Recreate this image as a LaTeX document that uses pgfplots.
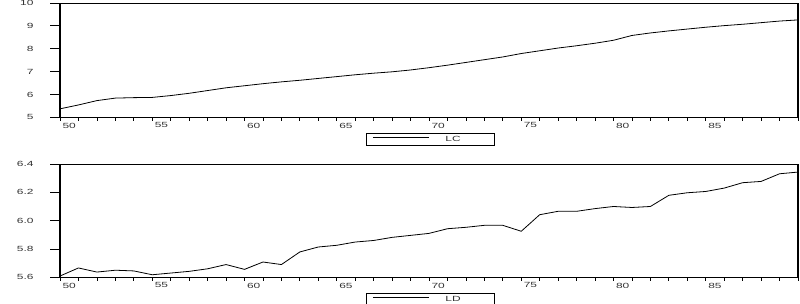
\documentclass[border=0pt]{standalone}
\usepackage{fontspec}
\setmainfont{Liberation Sans}
\usepackage{graphicx}
\usepackage{pgfplots}
\pgfplotsset{compat=1.18}
\newcommand\wtxt[1]{\scalebox{1.6}[1]{#1}}

\pgfplotstableread{
x y
1950 5.37
1951 5.54
1952 5.73
1953 5.84
1954 5.86
1955 5.87
1956 5.95
1957 6.05
1958 6.17
1959 6.29
1960 6.38
1961 6.47
1962 6.55
1963 6.62
1964 6.70
1965 6.78
1966 6.86
1967 6.93
1968 6.99
1969 7.07
1970 7.17
1971 7.28
1972 7.40
1973 7.52
1974 7.64
1975 7.79
1976 7.91
1977 8.03
1978 8.13
1979 8.24
1980 8.37
1981 8.58
1982 8.69
1983 8.78
1984 8.86
1985 8.94
1986 9.01
1987 9.07
1988 9.14
1989 9.21
1990 9.26
}\lcdata

\pgfplotstableread{
x y
1950 5.609
1951 5.666
1952 5.637
1953 5.650
1954 5.645
1955 5.618
1956 5.630
1957 5.642
1958 5.660
1959 5.690
1960 5.656
1961 5.708
1962 5.690
1963 5.779
1964 5.814
1965 5.826
1966 5.849
1967 5.860
1968 5.882
1969 5.896
1970 5.910
1971 5.943
1972 5.953
1973 5.967
1974 5.967
1975 5.925
1976 6.042
1977 6.066
1978 6.066
1979 6.085
1980 6.100
1981 6.093
1982 6.100
1983 6.179
1984 6.197
1985 6.206
1986 6.230
1987 6.268
1988 6.277
1989 6.331
1990 6.343
}\lddata

\pgfplotsset{
  evstyle/.style={
    scale only axis,
    width=738bp,
    xmin=1950, xmax=1990,
    xtick={1950.5,1955.5,1960.5,1965.5,1970.5,1975.5,1980.5,1985.5},
    xticklabels={\wtxt{50},\wtxt{55},\wtxt{60},\wtxt{65},\wtxt{70},\wtxt{75},\wtxt{80},\wtxt{85}},
    minor xtick={1950,1951,...,1990},
    separate axis lines,
    y axis line style={line width=1.8bp},
    x axis line style={line width=0.8bp},
    tick align=outside,
    tick pos=left,
    major tick length=10bp,
    minor tick length=3.5bp,
    major x tick style={draw=none},
    tick style={black, line width=0.8bp},
    ticklabel style={font=\fontsize{7.5}{8}\selectfont, text=black!80},
    xticklabel style={yshift=8bp},
    yticklabel style={xshift=-13bp},
    legend cell align=left,
    legend image code/.code={\draw[black, line width=0.8bp] (0bp,2.6bp) -- (56bp,2.6bp);},
    legend style={at={(0.502,0)}, anchor=north, yshift=-16bp, draw=black, line width=0.8bp,
      font=\fontsize{7.5}{8}\selectfont, text=black!80, inner xsep=6bp, inner ysep=0.5bp},
  }
}

\begin{document}
\begin{tikzpicture}
\useasboundingbox (0bp,0bp) rectangle (800bp,304bp);
\begin{axis}[evstyle,
  at={(60bp,186.7bp)}, anchor=south west,
  height=114.3bp,
  ymin=5, ymax=10,
  ytick={5,6,7,8,9,10},
  yticklabels={\wtxt{5},\wtxt{6},\wtxt{7},\wtxt{8},\wtxt{9},\wtxt{10}},
]
\addplot[black, line width=0.8bp, mark=none] table {\lcdata};
\addlegendentry{\makebox[55bp][l]{\hspace{14bp}\wtxt{LC}}}
\end{axis}
\begin{axis}[evstyle,
  at={(60bp,26.7bp)}, anchor=south west,
  height=113.3bp,
  ymin=5.6, ymax=6.4,
  ytick={5.6,5.8,6.0,6.2,6.4},
  yticklabels={\wtxt{5.6},\wtxt{5.8},\wtxt{6.0},\wtxt{6.2},\wtxt{6.4}},
]
\addplot[black, line width=0.8bp, mark=none] table {\lddata};
\addlegendentry{\makebox[55bp][l]{\hspace{14bp}\wtxt{LD}}}
\end{axis}
\end{tikzpicture}
\end{document}
